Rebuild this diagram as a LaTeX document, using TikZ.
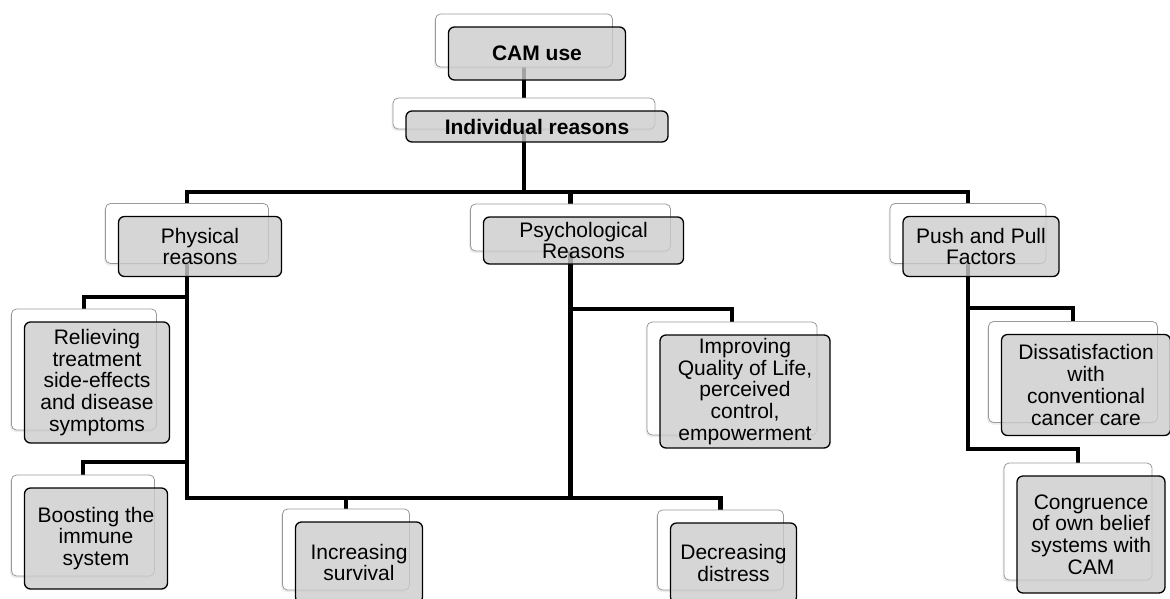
\documentclass[tikz,border=0pt]{standalone}
\usepackage{fontspec}
\setmainfont{Liberation Sans}
\usetikzlibrary{shadows}
\pgfdeclarelayer{background}
\pgfsetlayers{background,main}

\tikzset{
  backbox/.style={draw=black!40, fill=white, line width=.8pt, rounded corners=5pt,
    drop shadow={shadow xshift=-1.5pt, shadow yshift=-2pt, opacity=.15}},
  frontbox/.style={draw=black, line width=1.3pt, fill=black!20, fill opacity=.8,
    text opacity=1, draw opacity=1, rounded corners=6pt, align=center, inner sep=0pt},
  link/.style={line width=4.2pt, draw=black}
}

\begin{document}
\begin{tikzpicture}
        [x=1pt,y=-1pt,every node/.style={font=\fontsize{21}{21.8}\selectfont}]
      \useasboundingbox (0,0) rectangle (1170,598);

      % each item: white box behind, grey box in front
      \foreach \n/\x/\y/\w/\h/\txt in {
          cam/524/40.5/177/53/{\textbf{CAM use}},
          ind/524/113.5/262/31/{\textbf{Individual reasons}},
          phys/187/233.5/163/60/{Physical\\reasons},
          psych/570.5/227.5/200/47/{Psychological\\Reasons},
          push/968/233.5/156/60/{Push and Pull\\Factors},
          relief/84/369.5/145/121/{Relieving\\treatment\\side-effects\\and disease\\symptoms},
          boost/83/525.5/143/101/{Boosting the\\immune\\system},
          surv/346/549.5/127/81/{Increasing\\survival},
          distr/720.5/550/126/80/{Decreasing\\distress},
          qol/732/378.5/170/113/{Improving\\Quality of Life,\\perceived\\control,\\empowerment},
          dissat/1073/372/169/101/{Dissatisfaction\\with\\conventional\\cancer care},
          congr/1078/521.5/148/117/{Congruence\\of own belief\\systems with\\CAM}}
      {
        \node[backbox, minimum width=\w pt, minimum height=\h pt] (\n) at (\x,\y) {};
        \node[frontbox, minimum width=\w pt, minimum height=\h pt] (\n F)
          at ([shift={(13,13)}]\n) {\txt};
      }

      \begin{pgfonlayer}{background}
      \foreach \from/\to/\lev in {cam/ind/83, ind/phys/192, ind/psych/192, ind/push/192,
          phys/relief/297, phys/boost/462, phys/surv/498, psych/surv/498, psych/distr/498,
          psych/qol/309, push/dissat/308, push/congr/449}
        \draw[link] (\from.south) -- (\from.south |- 0,\lev) -| (\to.north);
      \end{pgfonlayer}
    \end{tikzpicture}
\end{document}
